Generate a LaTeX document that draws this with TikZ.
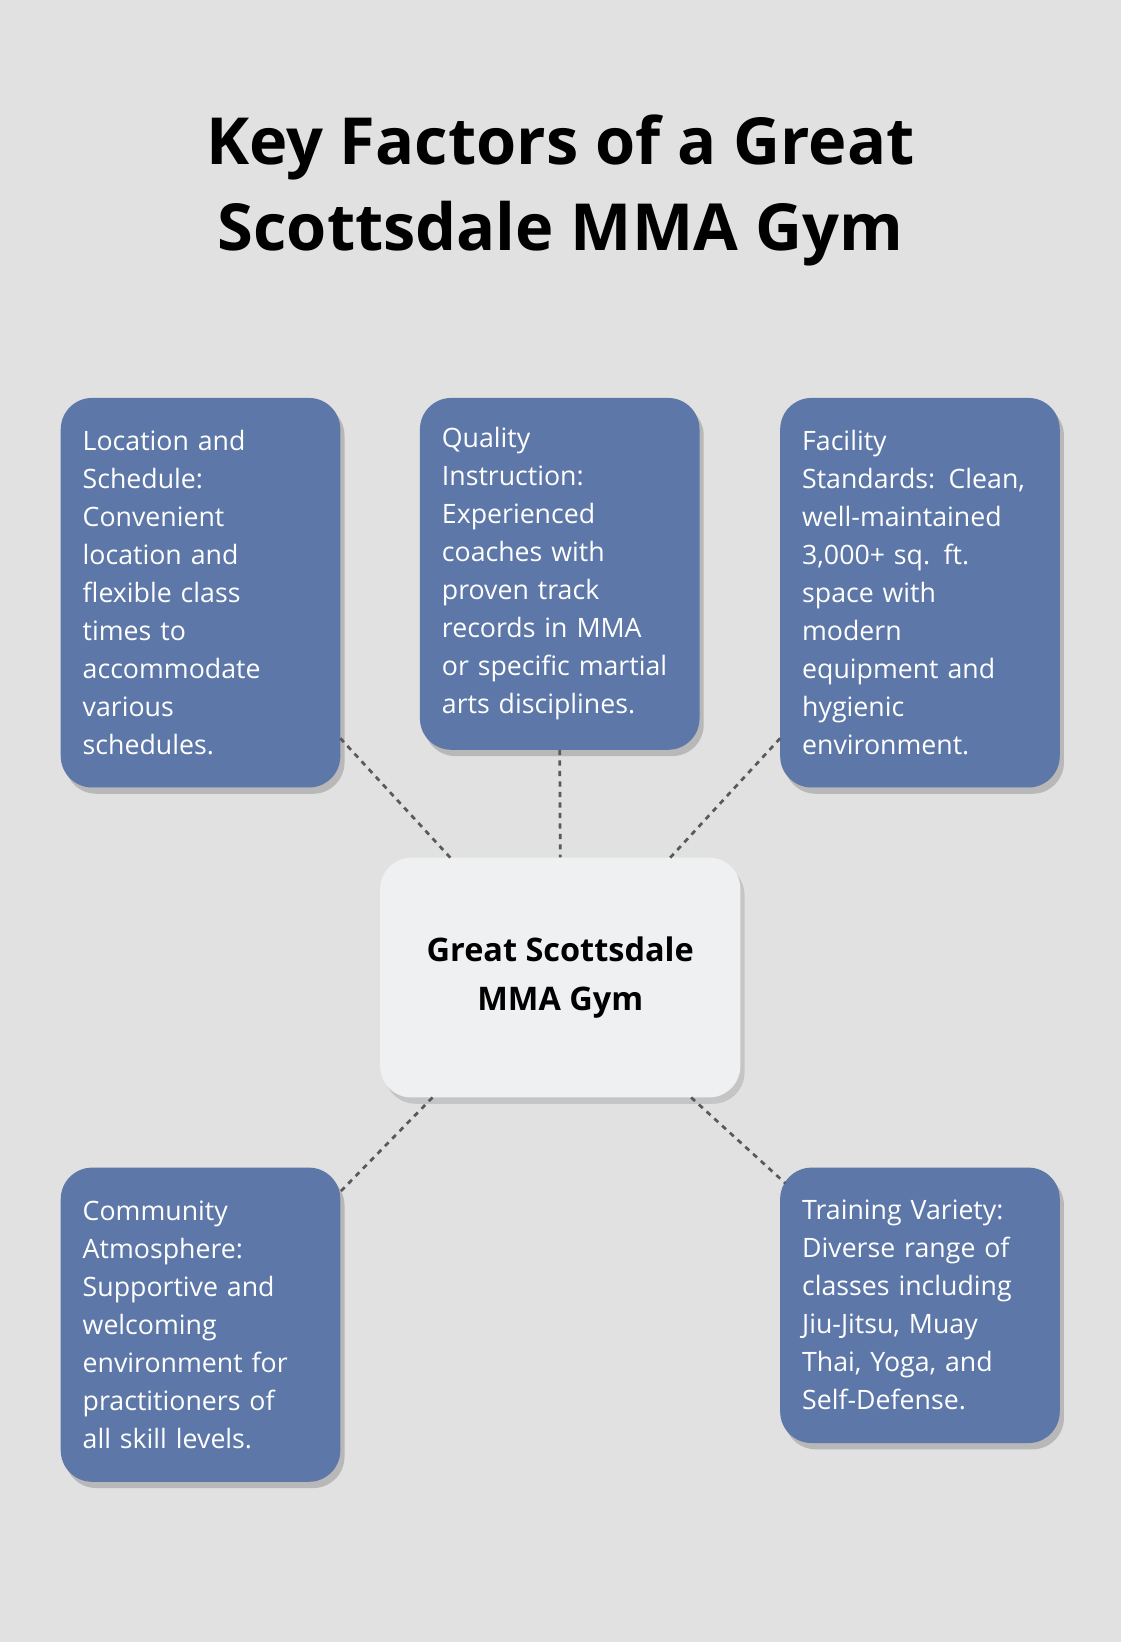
\documentclass[tikz,border=0pt]{standalone}
\usepackage{fontspec}
\setmainfont{Open Sans}
\usetikzlibrary{shadows}
\definecolor{bg}{HTML}{E0E1E0}
\definecolor{boxc}{HTML}{5C77A8}
\definecolor{cen}{HTML}{EFF0F2}
\begin{document}
\begin{tikzpicture}[x=1pt,y=-1pt,
 card/.style={draw=none,fill=boxc,rounded corners=30pt,text=white,align=left,
  minimum width=267pt,text width=225pt,inner xsep=21pt,
  font=\fontsize{25.5}{36.3}\selectfont,
  drop shadow={shadow xshift=4pt,shadow yshift=-6pt,opacity=0.18,fill=black}},
 link/.style={draw=black!65,line width=2.6pt,dash pattern=on 5pt off 5pt}]
\fill[bg] (0,0) rectangle (1070,1568);
\node[font=\bfseries\fontsize{62}{82}\selectfont,align=center] (title) at (535,182)
 {Key Factors of a Great\\Scottsdale MMA Gym};
\node[card,minimum height=372pt] (b1) at (191.5,566) {Location and\\Schedule:\\Convenient\\location and\\flexible class\\times to\\accommodate\\various\\schedules.};
\node[card,minimum height=336pt] (b2) at (534.5,548) {Quality\\Instruction:\\Experienced\\coaches with\\proven track\\records in MMA\\or specific martial\\arts disciplines.};
\node[card,minimum height=372pt] (b3) at (878.5,566) {Facility\\Standards: Clean,\\well-maintained\\3,000+ sq. ft.\\space with\\modern\\equipment and\\hygienic\\environment.};
\node[card,minimum height=300pt] (b4) at (191.5,1265) {Community\\Atmosphere:\\Supportive and\\welcoming\\environment for\\practitioners of\\all skill levels.};
\node[card,minimum height=263pt] (b5) at (878.5,1246.5) {Training Variety:\\Diverse range of\\classes including\\Jiu-Jitsu, Muay\\Thai, Yoga, and\\Self-Defense.};
\node[fill=cen,rounded corners=30pt,minimum width=344pt,minimum height=229pt,align=center,
 font=\bfseries\fontsize{31}{46}\selectfont,
 drop shadow={shadow xshift=4pt,shadow yshift=-6pt,opacity=0.12,fill=black}] (c) at (535,933.5)
 {Great Scottsdale\\MMA Gym};
\coordinate (p1) at (325,705); \coordinate (q1) at (430,819);
\coordinate (q3) at (640,819); \coordinate (p3) at (745,705);
\coordinate (q4) at (413,1048); \coordinate (p4) at (325,1138);
\coordinate (q5) at (660,1048); \coordinate (p5) at (750,1130);
\draw[link] (p1) -- (q1);
\draw[link] (b2.south) -- (c.north);
\draw[link] (p3) -- (q3);
\draw[link] (q4) -- (p4);
\draw[link] (q5) -- (p5);
\end{tikzpicture}
\end{document}
